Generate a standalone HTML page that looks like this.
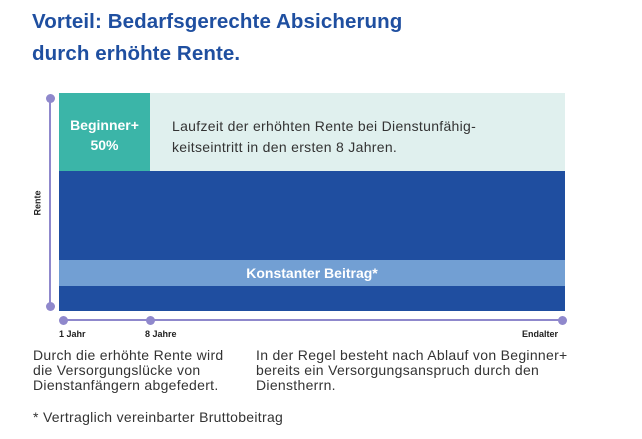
<!DOCTYPE html><html><head><style>
body{margin:0;width:642px;height:439px;background:#fff;font-family:"Liberation Sans",sans-serif;position:relative;overflow:hidden}
div{position:absolute}
.t{color:#1f4fa0;font-weight:bold;font-size:20.5px;left:32px;letter-spacing:0.1px}
.dot{width:9px;height:9px;border-radius:50%;background:#8f88cc}
.p{font-size:14px;color:#333;line-height:15px;letter-spacing:0.3px;white-space:nowrap}
.ax{font-size:9px;font-weight:bold;color:#222}
</style></head><body>
<div class="t" style="top:10px">Vorteil: Bedarfsgerechte Absicherung</div>
<div class="t" style="top:42px">durch erhöhte Rente.</div>
<div style="left:150px;top:93px;width:415px;height:78px;background:#e0f0ee"></div>
<div style="left:59px;top:93px;width:91px;height:78px;background:#3bb5a8;color:#fff;font-weight:bold;font-size:14px;text-align:center;line-height:20px;padding-top:22px;box-sizing:border-box">Beginner+<br>50%</div>
<div class="p" style="left:172px;top:116px;line-height:21px">Laufzeit der erhöhten Rente bei Dienstunfähig-<br>keitseintritt in den ersten 8 Jahren.</div>
<div style="left:59px;top:171px;width:506px;height:140px;background:#1f4ea0"></div>
<div style="left:59px;top:260px;width:506px;height:26px;background:#729fd3;color:#fff;font-weight:bold;font-size:14px;text-align:center;line-height:26px">Konstanter Beitrag*</div>
<div style="left:49px;top:98px;width:2px;height:209px;background:#8f88cc"></div>
<div class="dot" style="left:46px;top:94px"></div>
<div class="dot" style="left:46px;top:302px"></div>
<div class="ax" style="left:25px;top:198px;transform:rotate(-90deg)">Rente</div>
<div style="left:63px;top:319px;width:500px;height:2px;background:#8f88cc"></div>
<div class="dot" style="left:59px;top:316px"></div>
<div class="dot" style="left:146px;top:316px"></div>
<div class="dot" style="left:558px;top:316px"></div>
<div class="ax" style="left:59px;top:329px">1 Jahr</div>
<div class="ax" style="left:145px;top:329px">8 Jahre</div>
<div class="ax" style="left:522px;top:329px">Endalter</div>
<div class="p" style="left:33px;top:348px">Durch die erhöhte Rente wird<br>die Versorgungslücke von<br>Dienstanfängern abgefedert.</div>
<div class="p" style="left:256px;top:348px">In der Regel besteht nach Ablauf von Beginner+<br>bereits  ein Versorgungsanspruch durch den<br>Dienstherrn.</div>
<div class="p" style="left:33px;top:410px">* Vertraglich vereinbarter Bruttobeitrag</div>
</body></html>
